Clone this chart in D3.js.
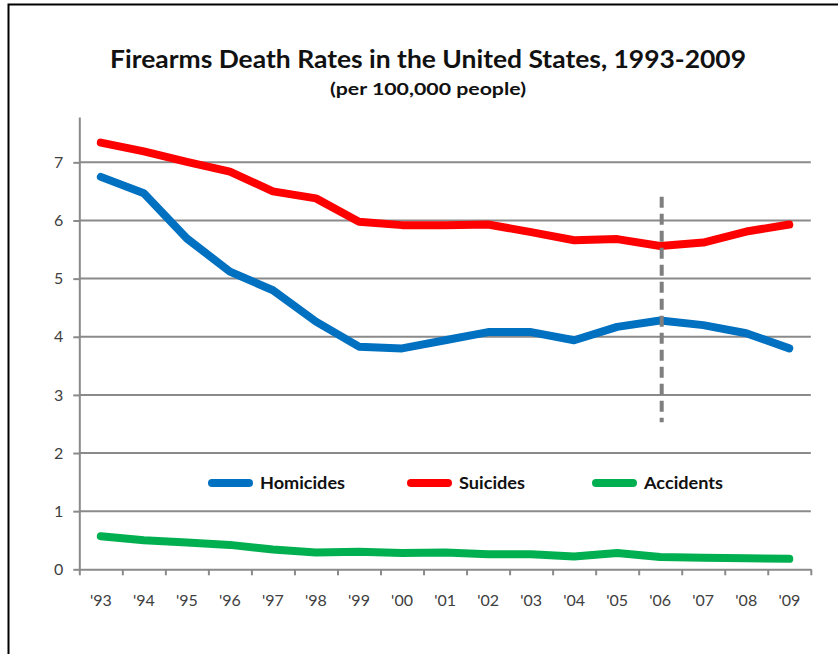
<!DOCTYPE html>
<html><head><meta charset="utf-8">
<script src="https://cdn.jsdelivr.net/npm/d3@7"></script>
<style>
body{margin:0;background:#fff;}
svg{display:block;font-family:Lato,"Open Sans",sans-serif;}
</style></head>
<body><svg id="c" width="838" height="654"></svg>
<script>
const years = ["'93","'94","'95","'96","'97","'98","'99","'00","'01","'02","'03","'04","'05","'06","'07","'08","'09"];
const homicides = [6.75,6.47,5.69,5.12,4.80,4.26,3.83,3.80,3.94,4.08,4.08,3.94,4.17,4.28,4.20,4.06,3.80];
const suicides  = [7.34,7.19,7.01,6.84,6.50,6.38,5.98,5.92,5.92,5.93,5.80,5.66,5.68,5.56,5.62,5.81,5.93];
const accidents = [0.57,0.50,0.46,0.42,0.34,0.29,0.30,0.28,0.29,0.26,0.26,0.22,0.28,0.21,0.20,0.19,0.18];
const yTicks = [0,1,2,3,4,5,6,7];
const seriesNames = ["Homicides","Suicides","Accidents"];
const seriesColors = ["#0070C0","#FF0000","#00B050"];
const markerYear = "'06";
const markerRange = [2.53, 6.41];

const svg = d3.select("#c");
const L = 79.3, R = 810.8, B = 569.3, T = 117;
const x = d3.scaleBand().domain(years).range([L, R]);
const xi = d3.scaleLinear().domain([0, years.length]).range([L, R]);
const y = d3.scaleLinear().domain([0, 7.78]).range([B, T]);

// frame
svg.append("path").attr("d", `M8.5,654 V4.5 H838`).attr("fill","none").attr("stroke","#000").attr("stroke-width",2);

// title
svg.append("text").attr("x",428).attr("y",68).attr("text-anchor","middle")
  .attr("font-size",25).attr("font-weight","bold").attr("fill","#111")
  .attr("textLength",636).attr("lengthAdjust","spacingAndGlyphs")
  .text("Firearms Death Rates in the United States, 1993-2009");
svg.append("text").attr("x",428).attr("y",95).attr("text-anchor","middle")
  .attr("font-size",17).attr("font-weight","bold").attr("fill","#111")
  .attr("textLength",196).attr("lengthAdjust","spacingAndGlyphs")
  .text("(per 100,000 people)");

// gridlines
svg.append("g").selectAll("line").data(yTicks.filter(d=>d>0)).join("line")
  .attr("x1",L).attr("x2",R).attr("y1",d=>y(d)).attr("y2",d=>y(d))
  .attr("stroke","#8a8a8a").attr("stroke-width",2);

// y axis
const ya = svg.append("g").attr("transform",`translate(${L},0)`)
  .call(d3.axisLeft(y).tickValues(yTicks).tickSize(6).tickSizeOuter(0).tickPadding(10).tickFormat(d3.format("d")));
ya.select(".domain").attr("stroke","#8a8a8a").attr("stroke-width",2);
ya.selectAll(".tick line").attr("stroke","#8a8a8a").attr("stroke-width",2);
ya.selectAll("text").attr("font-size",16).attr("fill","#404040").attr("font-family","Lato,sans-serif");

// x axis ticks at boundaries
const xa = svg.append("g").attr("transform",`translate(0,${B})`)
  .call(d3.axisBottom(xi).tickValues(d3.range(years.length+1)).tickSize(6).tickSizeOuter(0).tickFormat(""));
xa.select(".domain").attr("stroke","#8a8a8a").attr("stroke-width",2);
xa.selectAll(".tick line").attr("stroke","#8a8a8a").attr("stroke-width",2);
// x labels
const xl = svg.append("g").attr("transform",`translate(0,${B})`)
  .call(d3.axisBottom(x).tickSize(0).tickPadding(25));
xl.select(".domain").remove();
xl.selectAll("text").attr("font-size",16).attr("fill","#404040").attr("font-family","Lato,sans-serif");

// lines
const all = [homicides, suicides, accidents];
const line = d3.line().x((d,i)=>x(years[i])+x.bandwidth()/2).y(d=>y(d));
[2,0,1].forEach(k=>{
  svg.append("path").datum(all[k]).attr("d",line).attr("fill","none")
    .attr("stroke",seriesColors[k]).attr("stroke-width",8)
    .attr("stroke-linecap","round").attr("stroke-linejoin","round");
});

// marker dashed line
const mx = x(markerYear)+x.bandwidth()/2 + 1.5;
svg.append("line").attr("x1",mx).attr("x2",mx).attr("y1",y(markerRange[1])).attr("y2",y(markerRange[0]))
  .attr("stroke","#7f7f7f").attr("stroke-width",4).attr("stroke-dasharray","11,6");

// legend
const legX = [212, 411, 596];
const legW = [85, 66, 79];
const lg = svg.append("g");
seriesNames.forEach((n,i)=>{
  lg.append("line").attr("x1",legX[i]).attr("x2",legX[i]+37).attr("y1",483).attr("y2",483)
    .attr("stroke",seriesColors[i]).attr("stroke-width",8).attr("stroke-linecap","round");
  lg.append("text").attr("x",legX[i]+48).attr("y",489).attr("font-size",17).attr("font-weight","bold")
    .attr("fill","#111").attr("textLength",legW[i]).attr("lengthAdjust","spacingAndGlyphs").text(n);
});
</script></body></html>
